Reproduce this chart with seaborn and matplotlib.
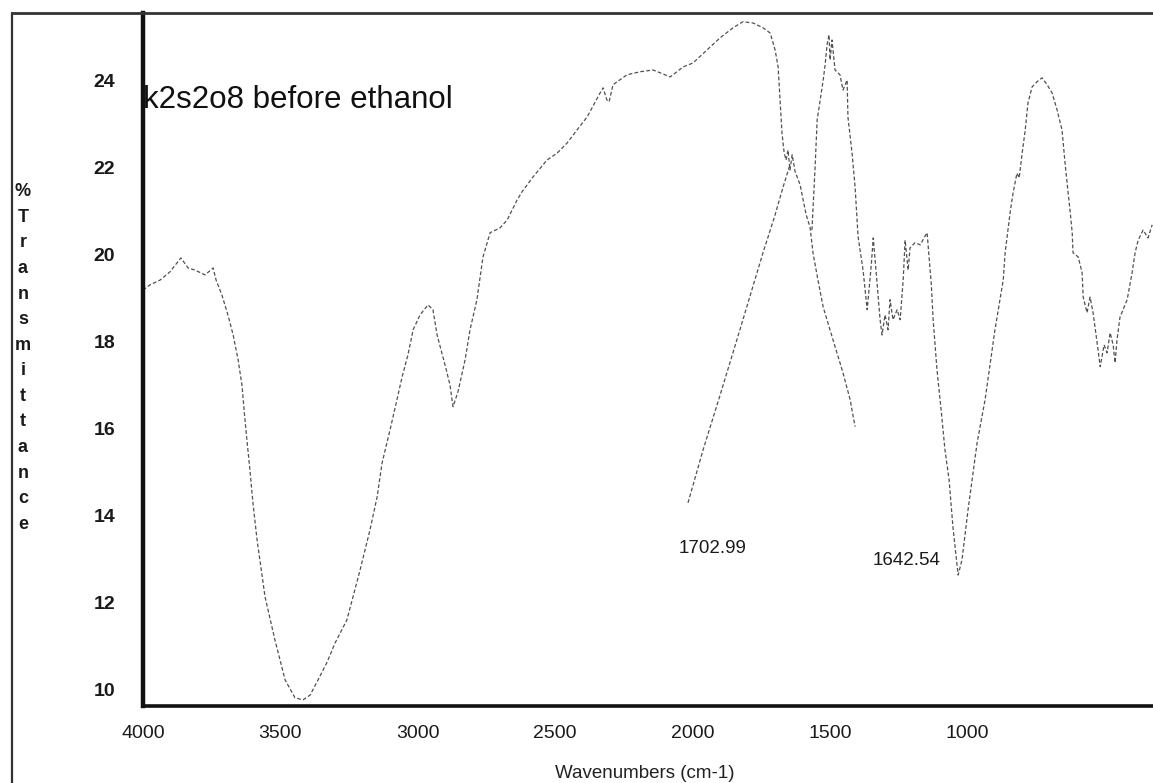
import numpy as np
import pandas as pd
import matplotlib
matplotlib.use("Agg")
import matplotlib.pyplot as plt
import seaborn as sns
from matplotlib.lines import Line2D

# ---------------- data ----------------
main_wn = [4000, 3975, 3938, 3902, 3862, 3836, 3811, 3774, 3745, 3734, 3713, 3691, 3672, 3654,
           3640, 3629, 3622, 3611, 3600, 3585, 3567, 3556, 3520, 3483, 3447, 3418, 3392, 3363,
           3330, 3301, 3258, 3210, 3174, 3148, 3130, 3101, 3076, 3057, 3036, 3017, 2992, 2963,
           2945, 2930, 2901, 2883, 2872, 2854, 2828, 2810, 2785, 2763, 2737, 2701, 2675, 2639,
           2621, 2581, 2530, 2493, 2457, 2421, 2384, 2337, 2326, 2312, 2304, 2290, 2239, 2191,
           2144, 2108, 2082, 2035, 1999, 1948, 1900, 1853, 1817, 1780, 1744, 1718, 1700, 1689,
           1682, 1675, 1667, 1660, 1653, 1646, 1638, 1627, 1609, 1598, 1587, 1573, 1562, 1544,
           1525, 1489, 1453, 1427, 1409]
main_t = [19.19, 19.31, 19.42, 19.61, 19.93, 19.70, 19.65, 19.54, 19.70, 19.42, 19.08, 18.62,
          18.16, 17.59, 17.01, 16.21, 15.75, 15.06, 14.30, 13.45, 12.64, 12.14, 11.15, 10.23,
          9.82, 9.77, 9.88, 10.23, 10.64, 11.08, 11.61, 12.76, 13.68, 14.44, 15.22, 15.98,
          16.67, 17.20, 17.70, 18.28, 18.62, 18.85, 18.74, 18.16, 17.47, 17.01, 16.51, 16.85,
          17.59, 18.28, 18.97, 19.95, 20.51, 20.62, 20.80, 21.26, 21.45, 21.79, 22.18, 22.34,
          22.57, 22.87, 23.17, 23.72, 23.84, 23.56, 23.52, 23.91, 24.14, 24.21, 24.25, 24.16,
          24.09, 24.32, 24.41, 24.71, 24.99, 25.22, 25.36, 25.33, 25.22, 25.10, 24.71, 24.32,
          23.56, 22.80, 22.34, 22.18, 22.41, 21.95, 22.30, 21.91, 21.61, 21.26, 20.92, 20.64,
          20.04, 19.42, 18.80, 18.04, 17.29, 16.67, 16.05]

diag_wn = [2017, 1962, 1900, 1828, 1744, 1700, 1671, 1646]
diag_t = [14.30, 15.52, 16.78, 18.28, 20.05, 20.92, 21.56, 22.07]

band_wn = [1566, 1555, 1547, 1536, 1525, 1518, 1511, 1504, 1500, 1493, 1482, 1464, 1453, 1438,
           1435, 1420, 1409, 1398, 1380, 1365, 1350, 1343, 1333, 1318, 1311, 1300, 1289, 1282,
           1271, 1256, 1245, 1234, 1227, 1216, 1209, 1191, 1172, 1158, 1147, 1136, 1132, 1125,
           1111, 1096, 1082, 1067, 1053, 1042, 1034, 1020, 998, 965, 936, 900, 870, 863, 845,
           834, 820, 812, 801, 790, 780, 765, 747, 729, 710, 692, 674, 656, 645, 634, 627, 619,
           616, 597, 583, 579, 565, 554, 543, 525, 517, 503, 492, 481, 470, 463, 456, 445, 419,
           401, 390, 379, 361, 343, 328]
band_t = [20.57, 21.95, 23.10, 23.56, 24.02, 24.37, 24.83, 25.06, 24.48, 24.94, 24.25, 24.14,
          23.79, 24.02, 23.17, 22.34, 21.56, 20.41, 19.65, 18.74, 19.77, 20.39, 19.65, 18.51,
          18.16, 18.62, 18.28, 18.97, 18.51, 18.74, 18.51, 19.42, 20.34, 19.65, 20.16, 20.28,
          20.23, 20.39, 20.51, 19.65, 19.36, 18.51, 17.36, 16.44, 15.52, 14.83, 13.75, 13.10,
          12.64, 12.99, 14.14, 15.68, 16.67, 18.28, 19.42, 20.05, 20.97, 21.43, 21.88, 21.77,
          22.34, 22.87, 23.49, 23.86, 23.98, 24.07, 23.91, 23.72, 23.33, 22.87, 22.11, 21.43,
          21.03, 20.51, 20.05, 19.95, 19.59, 19.03, 18.67, 19.03, 18.67, 17.82, 17.43, 17.93,
          17.75, 18.21, 17.93, 17.52, 18.05, 18.57, 18.97, 19.59, 20.05, 20.34, 20.57, 20.39,
          20.69]

x_ticks = [4000, 3500, 3000, 2500, 2000, 1500, 1000]
y_ticks = [10, 12, 14, 16, 18, 20, 22, 24]
peak_labels = ["1702.99", "1642.54"]
peak_label_pos = [(1929, 13.26), (1220, 12.98)]

# ---------------- build dataframe ----------------
df = pd.concat([
    pd.DataFrame({"wn": main_wn, "T": main_t, "seg": "a"}),
    pd.DataFrame({"wn": diag_wn, "T": diag_t, "seg": "b"}),
    pd.DataFrame({"wn": band_wn, "T": band_t, "seg": "c"}),
], ignore_index=True)

sns.set_theme(style="white")
plt.rcParams["font.family"] = ["Liberation Sans", "DejaVu Sans"]

W, H = 1153, 783
fig = plt.figure(figsize=(W / 100, H / 100), dpi=100)
ax = fig.add_axes([143 / W, 1 - 706 / H, (W - 143) / W, (706 - 13) / H])

sns.lineplot(data=df, x="wn", y="T", units="seg", estimator=None, sort=False,
             color="#505050", linewidth=0.9, ax=ax, legend=False)
for l in ax.lines:
    l.set_linestyle((0, (3.0, 1.8)))

ax.set_xlim(4000, 325)
ax.set_ylim(9.63, 25.56)
ax.set_xticks(x_ticks)
ax.set_xticklabels([str(v) for v in x_ticks], fontsize=14)
ax.set_yticks(y_ticks)
ax.set_yticklabels([str(v) for v in y_ticks], fontsize=14, fontweight="bold")
ax.tick_params(axis="both", length=0, colors="#1a1a1a")
ax.tick_params(axis="y", pad=20)
ax.tick_params(axis="x", pad=14)

for side in ["left", "bottom", "top"]:
    ax.spines[side].set_visible(True)
    ax.spines[side].set_color("#111111")
ax.spines["left"].set_linewidth(3.2)
ax.spines["bottom"].set_linewidth(2.6)
ax.spines["top"].set_linewidth(2.0)
ax.spines["top"].set_color("#333333")
ax.spines["right"].set_visible(False)

ax.set_xlabel("Wavenumbers (cm-1)", fontsize=13.5, color="#222222")
ax.xaxis.set_label_coords((645 - 143) / (W - 143), (706 - 773) / (706 - 13))
ax.xaxis.label.set_va("center")

ax.set_ylabel("\n".join("%Transmittance"), fontsize=13, fontweight="bold", rotation=0,
              linespacing=1.66, color="#1a1a1a")
ax.yaxis.set_label_coords((23 - 143) / (W - 143), (706 - 358) / (706 - 13))
ax.yaxis.label.set_va("center")
ax.yaxis.label.set_ha("center")

ax.text(0.0, 0.874, "k2s2o8 before ethanol", transform=ax.transAxes, fontsize=22.5,
        ha="left", va="center", color="#111111")

for lab, (xv, yv) in zip(peak_labels, peak_label_pos):
    ax.text(xv, yv, lab, fontsize=13.5, ha="center", va="center", color="#1a1a1a")

# outer frame
fig.add_artist(Line2D([12 / W, 12 / W], [0, 1 - 13 / H], transform=fig.transFigure,
                      color="#333333", lw=1.6))
fig.add_artist(Line2D([12 / W, 143 / W], [1 - 13 / H, 1 - 13 / H], transform=fig.transFigure,
                      color="#333333", lw=2.0))

fig.savefig("out.png", dpi=100, facecolor="white")
